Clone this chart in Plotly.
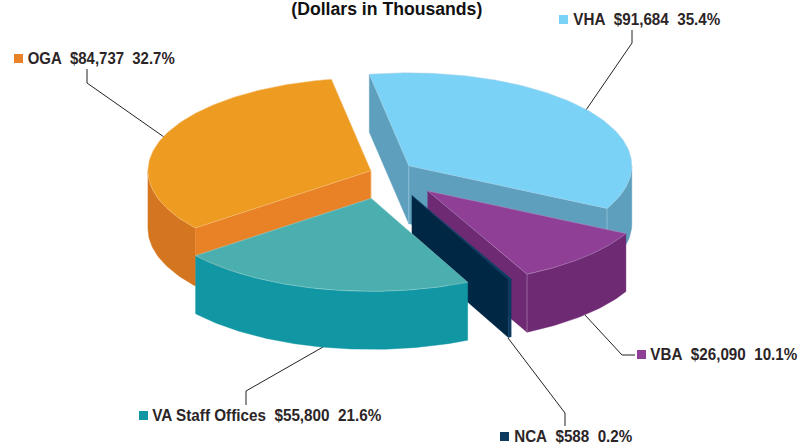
import json
import math
import plotly.graph_objects as go

# ---- data ----
names = ["VHA", "VBA", "NCA", "VA Staff Offices", "OGA"]
dollars = [91684, 26090, 588, 55800, 84737]
percents = ["35.4%", "10.1%", "0.2%", "21.6%", "32.7%"]
title_text = "(Dollars in Thousands)"

# ---- style ----
top_colors = ["#7bd2f7", "#8f3f96", "#0d3a5f", "#4aafae", "#ee9c21"]
cut_colors = ["#5d9fbd", "#6e2b73", "#002744", "#1196a4", "#e98127"]
wall_colors = ["#5d9fbd", "#6e2b73", "#0d3a5f", "#1196a4", "#d3761f"]
edge_colors = ["#a9d3e6", "#b78cc0", "#1d4a70", "#9fd6d6", "#f6c98a"]
swatch_colors = ["#7bd2f7", "#8f3f96", "#0d3a5f", "#1196a4", "#e98127"]
explode = [0.13, 0.27, 0.27, 0.28, 0.07]
CX, CY, RX, RY, DEPTH = 385.5, 173, 223, 93, 58
START = 100.2
TEXT = "#2b2527"
FONT = "Liberation Sans"

label_center = [(646.5, 19), (723.5, 353.5), (573, 436), (266.5, 414.5), (101.5, 58)]
label_width = [147, 147, 118, 229, 147]
swatch_xy = [(563.5, 19.5), (641.5, 354.5), (504.5, 436.5), (143.5, 415.5), (18.5, 58.5)]
leaders = [
    [(632, 30), (632, 43), (586, 110)],
    [(635, 355), (622, 355), (585, 315)],
    [(565, 426), (565, 413), (508, 338)],
    [(246, 405), (246, 391), (323, 347)],
    [(87, 69), (87, 83), (164, 137)],
]

fig = go.Figure()


def poly(pts, fill, line=None, width=0.6):
    xs = [p[0] for p in pts] + [pts[0][0]]
    ys = [p[1] for p in pts] + [pts[0][1]]
    fig.add_trace(go.Scatter(
        x=xs, y=ys, mode="lines", fill="toself", fillcolor=fill,
        line=dict(color=line or fill, width=width if line else 0.4),
        hoverinfo="skip", showlegend=False))


def seg(pts, color, width=1.0):
    fig.add_trace(go.Scatter(
        x=[p[0] for p in pts], y=[p[1] for p in pts], mode="lines",
        line=dict(color=color, width=width), hoverinfo="skip", showlegend=False))


total = sum(dollars)
spans = [v / total * 360 for v in dollars]
wedges = []
t = START
for i, s in enumerate(spans):
    wedges.append((t, t - s))
    t -= s

# leader lines lie under the pie
for pts in leaders:
    seg(pts, "#222222", 1.0)


def rim(ax, ay, a):
    r = math.radians(a)
    return (ax + RX * math.cos(r), ay - RY * math.sin(r))


for i in [4, 0, 1, 2, 3]:
    a0, a1 = wedges[i]
    mid = math.radians((a0 + a1) / 2)
    ax = CX + explode[i] * RX * math.cos(mid)
    ay = CY - explode[i] * RY * math.sin(mid)
    n = max(2, int(abs(a0 - a1)) + 2)
    angles = [a0 + (a1 - a0) * k / (n - 1) for k in range(n)]
    arc = [rim(ax, ay, a) for a in angles]

    # outer wall: the part of the rim that faces the viewer
    front = [a for a in angles if math.sin(math.radians(a)) <= 0]
    if len(front) >= 2:
        f = [rim(ax, ay, a) for a in front]
        poly(f + [(x, y + DEPTH) for x, y in reversed(f)], wall_colors[i])

    # cut faces, only where they look towards the viewer
    if math.cos(math.radians(a0)) < 0:
        p = rim(ax, ay, a0)
        poly([(ax, ay), p, (p[0], p[1] + DEPTH), (ax, ay + DEPTH)], cut_colors[i])
    if math.cos(math.radians(a1)) > 0:
        p = rim(ax, ay, a1)
        poly([(ax, ay), p, (p[0], p[1] + DEPTH), (ax, ay + DEPTH)], cut_colors[i])
        seg([p, (p[0], p[1] + DEPTH)], edge_colors[i], 0.6)
    if math.cos(math.radians(a0)) < 0:
        seg([(ax, ay), (ax, ay + DEPTH)], edge_colors[i], 0.6)

    # top face
    poly([(ax, ay)] + arc, top_colors[i], edge_colors[i], 0.5)

# swatches
fig.add_trace(go.Scatter(
    x=[p[0] for p in swatch_xy], y=[p[1] for p in swatch_xy], mode="markers",
    marker=dict(symbol="square", size=9, color=swatch_colors, line=dict(width=0)),
    hoverinfo="skip", showlegend=False))

# labels
NB = "\u00a0\u00a0"
for i, name in enumerate(names):
    fig.add_annotation(
        x=label_center[i][0], y=label_center[i][1], xref="x", yref="y",
        text=f"{name}{NB}${dollars[i]:,}{NB}{percents[i]}",
        showarrow=False, xanchor="center", yanchor="middle",
        font=dict(family=FONT, size=16.5, color=TEXT, weight="bold"))

fig.add_annotation(
    x=386.5, y=9, xref="x", yref="y", text=title_text,
    showarrow=False, xanchor="center", yanchor="middle",
    font=dict(family=FONT, size=17.5, color="#111111", weight="bold"))

fig.update_layout(
    width=812, height=445, margin=dict(l=0, r=0, t=0, b=0),
    paper_bgcolor="white", plot_bgcolor="white", showlegend=False,
    xaxis=dict(range=[0, 812], visible=False, fixedrange=True),
    yaxis=dict(range=[445, 0], visible=False, fixedrange=True),
)

# the reference face is a condensed one: squeeze each text to its measured width
widths = label_width + [191]
post = """
document.body.style.margin='0';
var ws = %s;
document.querySelectorAll('.annotation-text').forEach(function (t, i) {
  t.setAttribute('textLength', ws[i]);
  t.setAttribute('lengthAdjust', 'spacingAndGlyphs');
});
""" % json.dumps(widths)
fig.write_html("out.html", config={"displayModeBar": False}, post_script=post)
